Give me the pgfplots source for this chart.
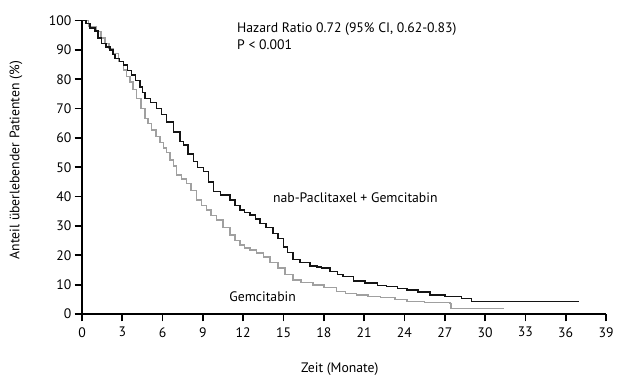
\documentclass[border=0pt]{standalone}
\usepackage{pgfplots}
\pgfplotsset{compat=1.18}
\usepackage{fontspec}
\setmainfont{PT Sans}
\definecolor{grayc}{RGB}{160,160,160}
\definecolor{blackc}{RGB}{20,20,20}
\begin{document}
\begin{tikzpicture}[font=\fontsize{10.3}{12}\selectfont]
\begin{axis}[
  scale only axis,
  width=393pt, height=220.1pt,
  xmin=0, xmax=39, ymin=0, ymax=100,
  axis lines=left,
  axis line style={-, line width=1.7pt},
  xtick={0,3,...,39}, ytick={0,10,...,100},
  tick align=outside,
  major tick length=5.5pt,
  tick style={line width=1.3pt, black},
  /pgf/number format/assume math mode=true,
  xticklabel style={yshift=-1pt},
  yticklabel style={xshift=1pt},
  xlabel={Zeit (Monate)},
  ylabel={Anteil überlebender Patienten (\%)},
  xlabel style={at={(axis description cs:0.492,-0.187)}, anchor=center},
  ylabel style={at={(axis description cs:-0.126,0.524)}, anchor=center},
  clip=false,
]
\addplot[const plot, grayc, line width=1.1pt] coordinates {
(0,100) (0.5,98) (1.09,96.2) (1.4,94) (1.71,92.2) (2.0,90.5) (2.33,88.8)
(2.7,86) (3.07,83.1) (3.3,81) (3.57,79.1) (3.8,76.5) (4.07,73.5) (4.4,70)
(4.69,66.7) (4.9,65) (5.18,62.7) (5.5,60.5) (5.8,58.5) (6.05,56.5) (6.3,55.0)
(6.55,52.5) (6.8,50.5) (7.05,47.4) (7.4,46) (7.79,44.5) (8.1,42) (8.53,38.8)
(8.9,37) (9.28,35.4) (9.6,33.5) (10.0,32.0) (10.5,29.5) (11.0,26.9) (11.4,25)
(11.76,23.5) (12.1,22.5) (12.5,21.8) (13.0,20.8) (13.49,19.5) (14.0,17.5)
(14.6,15.6) (15.1,13.5) (15.72,11.6) (16.3,10.8) (17.2,9.9) (18.0,9)
(18.95,7.6) (19.6,7.0) (20.44,6.5) (21.3,6) (22.2,5.7) (23.3,5) (24.2,4.2)
(25.5,4.0) (27.4,3.6) (27.45,1.9) (31.4,1.9)
};
\addplot[const plot, blackc, line width=1.1pt] coordinates {
(0,100) (0.3,99) (0.6,97.5) (0.97,96.5) (1.2,94) (1.47,92.2) (1.8,91)
(2.08,90) (2.3,88.5) (2.46,87.1) (2.8,86) (3.07,84.8) (3.4,83) (3.7,81.4)
(4.0,79.5) (4.32,77.4) (4.5,75.5) (4.69,73.5) (5.1,72) (5.56,70.1) (5.9,68)
(6.3,65.5) (6.8,62) (7.29,58.7) (7.54,57.6) (7.9,54.5) (8.28,51.9) (8.6,50)
(9.03,48.5) (9.4,45) (9.77,41.7) (10.3,40.5) (11.0,38.8) (11.4,37)
(11.76,35.4) (12.1,34.5) (12.5,33.7) (12.9,32.3) (13.24,30.9) (13.7,29.5)
(14.23,27.5) (14.6,25.8) (14.98,22.9) (15.3,21) (15.72,18.6) (16.22,17.5)
(16.96,16.4) (17.5,16) (17.83,15.6) (18.45,14.4) (19.0,13.5) (19.44,12.7)
(20.19,11.3) (21.06,10.5) (22.0,9.8) (22.67,9.3) (23.5,8.7) (24.2,8.2)
(25.0,7.5) (25.9,6.5) (27.0,6.0) (28.25,5.3) (29.0,4.3) (37.0,4.3)
};
\node[anchor=west, inner sep=0pt] at (axis cs:11.53,97.2) {Hazard Ratio 0.72 (95\% CI, 0.62-0.83)};
\node[anchor=west, inner sep=0pt] at (axis cs:11.53,91.7) {P < 0.001};
\node[anchor=west, inner sep=0pt] at (axis cs:14.2,39.5) {nab-Paclitaxel + Gemcitabin};
\node[anchor=west, inner sep=0pt] at (axis cs:10.95,5.8) {Gemcitabin};
\coordinate (SW) at (rel axis cs:0,0);
\coordinate (NE) at (rel axis cs:1,1);
\end{axis}
\pgfresetboundingbox
\path ([xshift=-61.5pt,yshift=-54pt]SW) rectangle ([xshift=10.5pt,yshift=15.4pt]NE);
\end{tikzpicture}
\end{document}
